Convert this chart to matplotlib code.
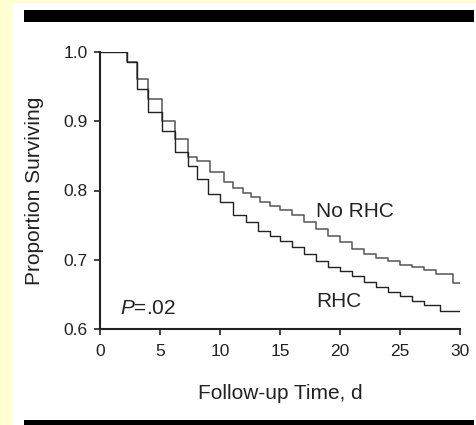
import matplotlib
matplotlib.use("Agg")
import matplotlib.pyplot as plt
from matplotlib.patches import Rectangle

plt.rcParams['font.family'] = ['Liberation Sans', 'DejaVu Sans']
plt.rcParams['mathtext.fontset'] = 'custom'
plt.rcParams['mathtext.it'] = 'Liberation Sans:italic'
plt.rcParams['mathtext.rm'] = 'Liberation Sans'

# Kaplan-Meier step values (day, proportion surviving)
no_rhc_t = [0, 2.25, 3.1, 4.0, 5.2, 6.25, 7.3, 8.1, 9.2, 10.3, 11.1, 11.9, 12.6,
            13.3, 14.2, 15.0, 16.0, 17.0, 18.0, 19.0, 20.0, 21.0, 22.0, 23.0,
            24.0, 25.0, 26.0, 27.0, 28.0, 29.4, 30.0]
no_rhc_s = [1.0, 0.985, 0.961, 0.932, 0.900, 0.874, 0.849, 0.842, 0.826, 0.812,
            0.804, 0.797, 0.790, 0.784, 0.778, 0.772, 0.764, 0.755, 0.745, 0.735,
            0.725, 0.716, 0.709, 0.703, 0.698, 0.693, 0.689, 0.685, 0.680, 0.667,
            0.667]

rhc_t = [0, 2.25, 3.1, 4.0, 5.2, 6.25, 7.3, 8.1, 9.0, 10.0, 11.1, 12.2, 13.2,
         14.2, 15.0, 16.0, 17.0, 18.0, 19.0, 20.0, 21.0, 22.0, 23.0, 24.0,
         25.0, 26.0, 27.0, 28.3, 30.0]
rhc_s = [1.0, 0.985, 0.946, 0.913, 0.886, 0.855, 0.835, 0.816, 0.795, 0.783,
         0.765, 0.755, 0.741, 0.735, 0.727, 0.718, 0.708, 0.698, 0.690, 0.684,
         0.677, 0.668, 0.660, 0.654, 0.648, 0.641, 0.634, 0.626, 0.626]

x_ticks = [0, 5, 10, 15, 20, 25, 30]
y_ticks = [0.6, 0.7, 0.8, 0.9, 1.0]

fig = plt.figure(figsize=(4.77, 4.25), dpi=100)
fig.patch.set_facecolor('#FFFFD2')

# white page with the black rules of the journal figure
fig.patches.append(Rectangle((13 / 477, 0), 1, 1 - 3 / 425, transform=fig.transFigure,
                             facecolor='white', edgecolor='none', zorder=-2))
fig.patches.append(Rectangle((24 / 477, 1 - 22 / 425), 450 / 477, 12 / 425,
                             transform=fig.transFigure, facecolor='black',
                             edgecolor='none', zorder=-1))
fig.patches.append(Rectangle((24 / 477, 0), 450 / 477, 5 / 425,
                             transform=fig.transFigure, facecolor='black',
                             edgecolor='none', zorder=-1))

ax = fig.add_axes([100 / 477, 1 - 329 / 425, 360 / 477, 277 / 425])
ax.set_facecolor('none')

ax.step(no_rhc_t, no_rhc_s, where='post', color='#555555', lw=1.1)
ax.step(rhc_t, rhc_s, where='post', color='#222222', lw=1.0)

ax.set_xlim(0, 30)
ax.set_ylim(0.6, 1.0)
ax.set_xticks(x_ticks)
ax.set_yticks(y_ticks)
ax.set_yticklabels(['0.6', '0.7', '0.8', '0.9', '1.0'])

for side in ['top', 'right']:
    ax.spines[side].set_visible(False)
for side in ['left', 'bottom']:
    ax.spines[side].set_linewidth(1.5)
    ax.spines[side].set_color('#222222')
ax.tick_params(direction='out', length=4, width=1.2, labelsize=12.5, colors='#222222')
ax.tick_params(axis='x', pad=7)
ax.tick_params(axis='y', pad=5)

ax.set_xlabel('Follow-up Time, d', fontsize=15, labelpad=18, color='#222222')
ax.set_ylabel('Proportion Surviving', fontsize=15, labelpad=14, color='#222222')

ax.text(21.25, 0.770, 'No RHC', fontsize=15, ha='center', va='center', color='#222222')
ax.text(19.9, 0.639, 'RHC', fontsize=15, ha='center', va='center', color='#222222')
ax.text(1.67, 0.630, r'$P$=.02', fontsize=15, ha='left', va='center', color='#222222')

fig.savefig('out.png', dpi=100)
